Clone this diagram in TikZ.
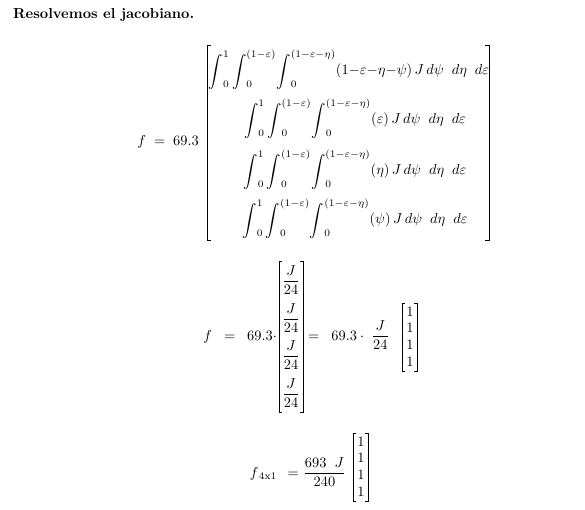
\documentclass[tikz,border=0pt]{standalone}
\usepackage{amsmath}
\usepackage{graphicx}
\newcommand{\bint}{\mathop{\vphantom{\int}\smash{\raisebox{-0.1\height}{\scalebox{1.0}[1.1]{$\displaystyle\int$}}}}\nolimits}
\newcommand{\mn}{{-}}
\newcommand{\M}[1]{\scalebox{1.44}{$\displaystyle #1$}}
\newcommand{\ints}{\bint_0^1\bint_0^{(1\mn\varepsilon)}\!\bint_0^{(1\mn\varepsilon\mn\eta)}}
\begin{document}
\begin{tikzpicture}[x=1pt,y=-1pt,
  txt/.style={inner sep=0pt},
  brk/.style={line width=0.9pt}]
\useasboundingbox (0,0) rectangle (585,509);
\node[anchor=west,inner sep=0pt] (title) at (13,15) {\resizebox{181pt}{!}{\bfseries Resolvemos el jacobiano.}};
% first block
\node[txt,anchor=base east] (lhs1) at (199,145) {\M{f\;=\;69.3}};
\node[txt,anchor=base] (r1) at (349,74) {\M{\ints(1\mn\varepsilon\mn\eta\mn\psi)\,J\,d\psi\;\;d\eta\;\;d\varepsilon}};
\node[txt,anchor=base] (r2) at (355,123) {\M{\ints(\varepsilon)\,J\,d\psi\;\;d\eta\;\;d\varepsilon}};
\node[txt,anchor=base] (r3) at (355,174) {\M{\ints(\eta)\,J\,d\psi\;\;d\eta\;\;d\varepsilon}};
\node[txt,anchor=base] (r4) at (355,223) {\M{\ints(\psi)\,J\,d\psi\;\;d\eta\;\;d\varepsilon}};
\draw[brk] (211,45) -- (207,45) -- (207,240) -- (211,240);
\draw[brk] (485,45) -- (489,45) -- (489,240) -- (485,240);
% second block
\node[txt,anchor=base east] (lhs2) at (277,340) {\M{f\;\;=\;\;69.3\cdot}};
\node[txt] (v1) at (291,280) {\M{\frac{J}{24}}};
\node[txt] (v2) at (291,318) {\M{\frac{J}{24}}};
\node[txt] (v3) at (291,355) {\M{\frac{J}{24}}};
\node[txt] (v4) at (291,393) {\M{\frac{J}{24}}};
\draw[brk] (282,261) -- (279,261) -- (279,412) -- (282,412);
\draw[brk] (300,261) -- (303,261) -- (303,412) -- (300,412);
\node[txt,anchor=base west] (mid2) at (308,340) {\M{=\;\;69.3\cdot\;\frac{J}{24}}};
\node[txt] (o1) at (410,312) {\M{1}};
\node[txt] (o2) at (410,328) {\M{1}};
\node[txt] (o3) at (410,345) {\M{1}};
\node[txt] (o4) at (410,362) {\M{1}};
\draw[brk] (405,303) -- (402,303) -- (402,371) -- (405,371);
\draw[brk] (414,303) -- (417,303) -- (417,371) -- (414,371);
% third block
\node[txt,anchor=base east] (lhs3) at (299,477) {\M{f_{\,\mathrm{4x1}}\;\,=}};
\node[txt,anchor=base west] (rhs3) at (303,477) {\M{\frac{693\;\;J}{240}}};
\node[txt] (p1) at (361,442) {\M{1}};
\node[txt] (p2) at (361,458) {\M{1}};
\node[txt] (p3) at (361,475) {\M{1}};
\node[txt] (p4) at (361,492) {\M{1}};
\draw[brk] (356,433) -- (353,433) -- (353,501) -- (356,501);
\draw[brk] (365,433) -- (368,433) -- (368,501) -- (365,501);
\end{tikzpicture}
\end{document}
